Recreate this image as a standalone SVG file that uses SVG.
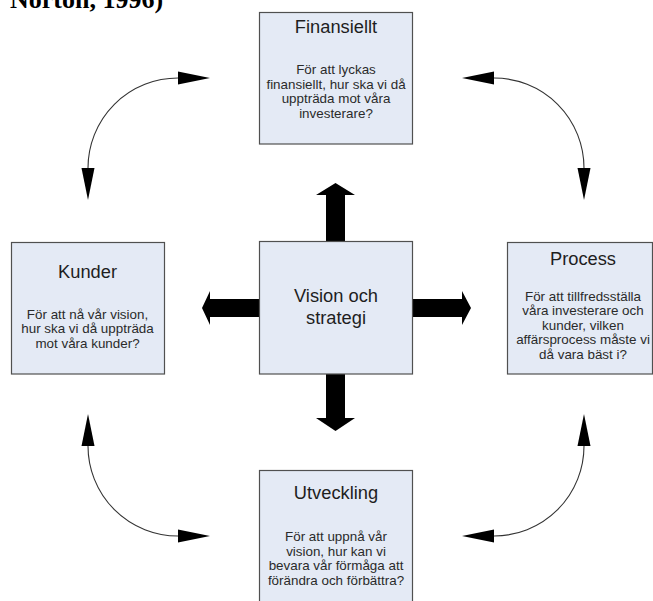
<svg xmlns="http://www.w3.org/2000/svg" width="653" height="601" viewBox="0 0 653 601">
<defs>
<style>
.box{fill:#e4eaf5;stroke:#505050;stroke-width:1.2}
.t{font-family:"Liberation Sans",Arial,sans-serif;font-size:18.3px;fill:#1e1e1e;text-anchor:middle}
.b{font-family:"Liberation Sans",Arial,sans-serif;font-size:13.4px;fill:#2a2a2a;text-anchor:middle}
.curve{fill:none;stroke:#333;stroke-width:1.1;marker-start:url(#head);marker-end:url(#head)}
.block{fill:#000}
</style>
<marker id="head" markerUnits="userSpaceOnUse" markerWidth="33" markerHeight="14" refX="0" refY="6.5" orient="auto-start-reverse" overflow="visible">
<path d="M0,0 L32,6.5 L0,13 Z" fill="#000"/>
</marker>
</defs>
<rect width="653" height="601" fill="#fff"/>
<text x="10" y="8" font-family="Liberation Serif,'Times New Roman',serif" font-size="26" font-weight="bold" fill="#000">Norton, 1996)</text>

<g id="connectors">
<path class="curve" d="M88,168 A90,90 0 0 1 178,78"/>
<path class="curve" d="M494,78 A90,90 0 0 1 584,168"/>
<path class="curve" d="M88,446 A90,90 0 0 0 178,536"/>
<path class="curve" d="M584,446 A90,90 0 0 1 494,536"/>
<path class="block" d="M326,241 L326,195 L316,195 L335.5,183 L355,195 L345,195 L345,241 Z"/>
<path class="block" d="M326,374 L326,418 L316,418 L335.5,431 L355,418 L345,418 L345,374 Z"/>
<path class="block" d="M259,299 L210,299 L210,291 L202,308 L210,325 L210,317 L259,317 Z"/>
<path class="block" d="M412,299 L462,299 L462,291 L471,308 L462,325 L462,317 L412,317 Z"/>
</g>

<g id="finansiellt">
<rect class="box" x="259.5" y="12.5" width="153" height="131.5"/>
<text class="t" x="336" y="32.5">Finansiellt</text>
<text class="b" x="336" y="74">För att lyckas</text>
<text class="b" x="336" y="88.5">finansiellt, hur ska vi då</text>
<text class="b" x="336" y="103">uppträda mot våra</text>
<text class="b" x="336" y="117.5">investerare?</text>
</g>

<g id="kunder">
<rect class="box" x="11.5" y="242.5" width="153" height="131.5"/>
<text class="t" x="87.5" y="278">Kunder</text>
<text class="b" x="87.5" y="318.5">För att nå vår vision,</text>
<text class="b" x="87.5" y="333">hur ska vi då uppträda</text>
<text class="b" x="87.5" y="347.5">mot våra kunder?</text>
</g>

<g id="vision">
<rect class="box" x="259.5" y="241.5" width="153" height="132.5"/>
<text class="t" x="336" y="302">Vision och</text>
<text class="t" x="336" y="324">strategi</text>
</g>

<g id="process">
<rect class="box" x="507.5" y="242.5" width="145" height="131.5"/>
<text class="t" x="583" y="265">Process</text>
<text class="b" x="583" y="300.5">För att tillfredsställa</text>
<text class="b" x="583" y="315">våra investerare och</text>
<text class="b" x="583" y="329.5">kunder, vilken</text>
<text class="b" x="583" y="344">affärsprocess måste vi</text>
<text class="b" x="583" y="358.5">då vara bäst i?</text>
</g>

<g id="utveckling">
<rect class="box" x="259.5" y="470.5" width="153" height="140"/>
<text class="t" x="336" y="499">Utveckling</text>
<text class="b" x="336" y="541">För att uppnå vår</text>
<text class="b" x="336" y="555.5">vision, hur kan vi</text>
<text class="b" x="336" y="570">bevara vår förmåga att</text>
<text class="b" x="336" y="584.5">förändra och förbättra?</text>
</g>
</svg>
